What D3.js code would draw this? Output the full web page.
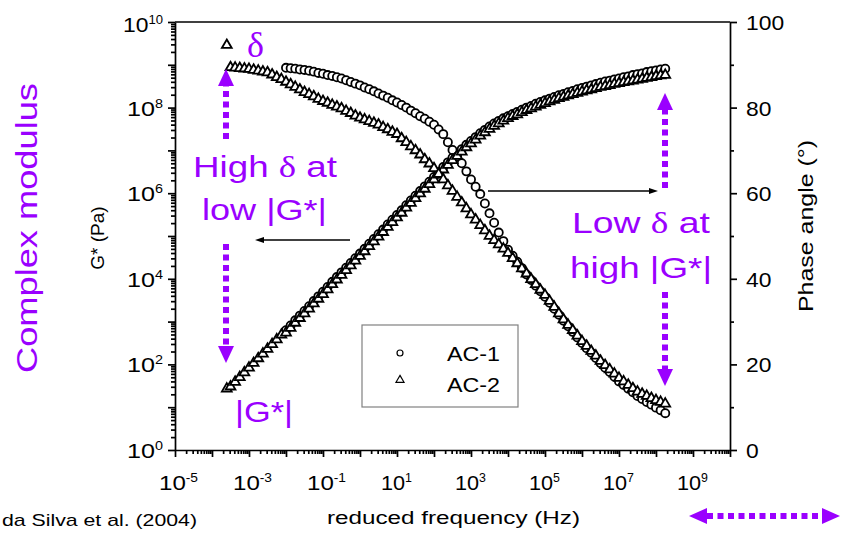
<!DOCTYPE html>
<html>
<head>
<meta charset="utf-8">
<script src="https://cdn.jsdelivr.net/npm/d3@7"></script>
<style>
  body { margin: 0; background: #fff; }
  svg { display: block; font-family: "Liberation Sans", Arial, sans-serif; }
</style>
</head>
<body>
<svg id="chart" width="861" height="533"></svg>
<script>
// log10 of reduced frequency (Hz), |G*| as log10(Pa), phase angle in degrees
const ac1LogFreq = [-2,-1.875,-1.75,-1.625,-1.5,-1.375,-1.25,-1.125,-1,-0.875,-0.75,-0.625,-0.5,-0.375,-0.25,-0.125,
  0,0.125,0.25,0.375,0.5,0.625,0.75,0.875,1,1.125,1.25,1.375,1.5,1.625,1.75,1.875,2,2.125,2.25,2.375,2.5,2.625,2.75,2.875,
  3,3.125,3.25,3.375,3.5,3.625,3.75,3.875,4,4.125,4.25,4.375,4.5,4.625,4.75,4.875,5,5.125,5.25,5.375,5.5,5.625,5.75,5.875,
  6,6.125,6.25,6.375,6.5,6.625,6.75,6.875,7,7.125,7.25,7.375,7.5,7.625,7.75,7.875,8,8.125,8.25];
const ac1LogG = [2.80,2.91,3.03,3.14,3.25,3.36,3.48,3.59,3.70,3.81,3.93,4.04,4.15,4.26,4.37,4.48,
  4.59,4.70,4.82,4.93,5.04,5.15,5.27,5.38,5.49,5.60,5.72,5.83,5.94,6.05,6.16,6.27,6.38,6.49,6.61,6.72,6.83,6.93,7.03,7.13,
  7.22,7.31,7.40,7.48,7.56,7.63,7.69,7.75,7.80,7.85,7.90,7.95,8.00,8.04,8.09,8.13,8.17,8.21,8.25,8.29,8.32,8.36,8.39,8.43,
  8.46,8.49,8.52,8.55,8.58,8.61,8.63,8.66,8.68,8.71,8.73,8.76,8.78,8.80,8.83,8.85,8.87,8.89,8.91];
const ac1Phase = [89.3,89.2,89.1,88.9,88.8,88.6,88.4,88.1,87.9,87.6,87.4,87.1,86.8,86.4,86.0,85.6,
  85.2,84.7,84.3,83.8,83.3,82.8,82.3,81.7,81.2,80.6,80.0,79.3,78.7,78.0,77.4,76.7,76.0,74.9,73.8,71.9,70.1,68.6,67.0,65.1,
  63.2,61.5,59.8,57.6,55.3,53.1,50.8,48.8,46.8,45.4,44.0,42.5,41.0,39.7,38.4,37.1,35.8,34.4,33.0,31.6,30.2,28.9,27.6,26.3,
  25.0,23.8,22.7,21.5,20.3,19.2,18.2,17.1,16.0,15.2,14.3,13.5,12.6,11.9,11.2,10.6,9.9,9.3,8.6];

const ac2LogFreq = [-3.6,-3.5,-3.375,-3.25,-3.125,-3,-2.875,-2.75,-2.625,-2.5,-2.375,-2.25,-2.125,
  -2,-1.875,-1.75,-1.625,-1.5,-1.375,-1.25,-1.125,-1,-0.875,-0.75,-0.625,-0.5,-0.375,-0.25,-0.125,
  0,0.125,0.25,0.375,0.5,0.625,0.75,0.875,1,1.125,1.25,1.375,1.5,1.625,1.75,1.875,2,2.125,2.25,2.375,2.5,2.625,2.75,2.875,
  3,3.125,3.25,3.375,3.5,3.625,3.75,3.875,4,4.125,4.25,4.375,4.5,4.625,4.75,4.875,5,5.125,5.25,5.375,5.5,5.625,5.75,5.875,
  6,6.125,6.25,6.375,6.5,6.625,6.75,6.875,7,7.125,7.25,7.375,7.5,7.625,7.75,7.875,8,8.125,8.25];
const ac2LogG = [1.43,1.48,1.59,1.70,1.81,1.92,2.03,2.14,2.25,2.36,2.47,2.58,2.69,
  2.74,2.85,2.97,3.08,3.19,3.30,3.42,3.53,3.64,3.75,3.87,3.98,4.09,4.20,4.31,4.42,
  4.53,4.64,4.76,4.87,4.98,5.09,5.21,5.32,5.43,5.54,5.66,5.77,5.88,5.99,6.10,6.21,6.32,6.43,6.55,6.66,6.77,6.87,6.97,7.07,
  7.16,7.25,7.34,7.42,7.50,7.57,7.63,7.69,7.75,7.80,7.84,7.89,7.94,7.98,8.02,8.06,8.10,8.14,8.18,8.22,8.25,8.28,8.31,8.34,
  8.37,8.40,8.42,8.45,8.48,8.50,8.52,8.55,8.57,8.59,8.61,8.63,8.65,8.67,8.69,8.71,8.73,8.75,8.76];
const ac2Phase = [94.6,89.4,89.3,89.2,89.1,89.0,88.8,88.6,88.4,88.2,87.7,87.1,86.6,
  86.0,85.4,84.8,84.2,83.6,83.1,82.6,82.0,81.5,81.1,80.6,80.2,79.8,79.2,78.7,78.1,
  77.6,77.2,76.8,76.4,76.0,75.4,74.9,74.3,73.8,72.8,71.9,70.9,70.0,69.0,67.9,66.9,65.8,64.5,63.2,61.8,60.5,59.1,57.8,56.4,
  55.0,53.8,52.5,51.3,50.0,49.0,48.0,47.0,46.0,44.8,43.6,42.4,41.2,39.9,38.7,37.4,36.2,34.8,33.4,31.9,30.5,29.2,28.0,26.7,
  25.4,24.3,23.1,22.0,20.8,19.8,18.8,17.8,16.8,16.0,15.2,14.4,13.6,13.1,12.6,12.1,11.6,11.2,10.8];

const seriesNames = ["AC-1", "AC-2"];
const gLabelExp = [0, 2, 4, 6, 8, 10];
const fLabelExp = [-5, -3, -1, 1, 3, 5, 7, 9];
const phaseTicks = [0, 20, 40, 60, 80, 100];
const phaseMinor = [10, 30, 50, 70, 90];

const purple = "#9a00ff";
const plot = { left: 175, right: 730, top: 22, bottom: 450 };

const svg = d3.select("#chart");

const x = d3.scaleLog().domain([1e-5, 1e10]).range([plot.left, plot.right]);
const yG = d3.scaleLog().domain([1, 1e10]).range([plot.bottom, plot.top]);
const yP = d3.scaleLinear().domain([0, 100]).range([plot.bottom, plot.top]);

const decades = (a, b) => d3.range(a, b + 1).map(e => Math.pow(10, e));
const minors = (a, b) => d3.range(a, b).flatMap(e => d3.range(2, 10).map(m => m * Math.pow(10, e)));

function styleAxis(g) {
    g.selectAll("path, line").attr("stroke", "#000").attr("stroke-width", 1.7);
    g.selectAll("text").remove();
}

// left axis (G*)
svg.append("g").attr("transform", `translate(${plot.left},0)`)
    .call(d3.axisLeft(yG).tickValues(decades(0, 10)).tickSize(7).tickSizeOuter(0).tickFormat(""))
    .call(styleAxis);
svg.append("g").attr("transform", `translate(${plot.left},0)`)
    .call(d3.axisLeft(yG).tickValues(minors(0, 10)).tickSize(4).tickSizeOuter(0).tickFormat(""))
    .call(styleAxis).select(".domain").remove();

// bottom axis (frequency)
svg.append("g").attr("transform", `translate(0,${plot.bottom})`)
    .call(d3.axisBottom(x).tickValues(decades(-5, 10)).tickSize(7).tickSizeOuter(0).tickFormat(""))
    .call(styleAxis);
svg.append("g").attr("transform", `translate(0,${plot.bottom})`)
    .call(d3.axisBottom(x).tickValues(minors(-5, 10)).tickSize(4).tickSizeOuter(0).tickFormat(""))
    .call(styleAxis).select(".domain").remove();

// right axis (phase)
svg.append("g").attr("transform", `translate(${plot.right},0)`)
    .call(d3.axisRight(yP).tickValues(phaseTicks).tickSize(7).tickSizeOuter(0).tickFormat(""))
    .call(styleAxis);
svg.append("g").attr("transform", `translate(${plot.right},0)`)
    .call(d3.axisRight(yP).tickValues(phaseMinor).tickSize(4).tickSizeOuter(0).tickFormat(""))
    .call(styleAxis).select(".domain").remove();

// top frame line
svg.append("line")
    .attr("x1", plot.left).attr("x2", plot.right)
    .attr("y1", plot.top).attr("y2", plot.top)
    .attr("stroke", "#000").attr("stroke-width", 1.7);

// power-of-ten tick labels
function powLabel(px, py, exp, anchor, len) {
    const t = svg.append("text")
        .attr("x", px).attr("y", py)
        .attr("text-anchor", anchor)
        .attr("font-size", 21)
        .attr("textLength", len).attr("lengthAdjust", "spacingAndGlyphs");
    t.append("tspan").text("10");
    t.append("tspan").attr("dy", -8).attr("font-size", 12).text(exp);
}

gLabelExp.forEach(e => {
    const py = yG(Math.pow(10, e));
    powLabel(163, e === 10 ? py + 10 : py + 8, e, "end", e === 10 ? 40 : 36);
});
fLabelExp.forEach(e => {
    const px = x(Math.pow(10, e));
    powLabel(px - 16, 490, e, "start", e < 0 ? 39 : 31);
});
phaseTicks.forEach(v => {
    svg.append("text")
        .attr("x", 746).attr("y", yP(v) + 8)
        .attr("font-size", 21)
        .attr("textLength", String(v).length * 12.7).attr("lengthAdjust", "spacingAndGlyphs")
        .text(v);
});

// axis titles
svg.append("text")
    .attr("x", 327).attr("y", 524)
    .attr("font-size", 18)
    .attr("textLength", 253).attr("lengthAdjust", "spacingAndGlyphs")
    .text("reduced frequency (Hz)");

svg.append("text")
    .attr("transform", "translate(104,238) rotate(-90)")
    .attr("text-anchor", "middle")
    .attr("font-size", 19)
    .text("G* (Pa)");

svg.append("text")
    .attr("transform", "translate(813,226) rotate(-90)")
    .attr("text-anchor", "middle")
    .attr("font-size", 21)
    .attr("textLength", 172).attr("lengthAdjust", "spacingAndGlyphs")
    .text("Phase angle (°)");

svg.append("text")
    .attr("transform", "translate(37,228) rotate(-90)")
    .attr("text-anchor", "middle")
    .attr("font-size", 30)
    .attr("fill", purple)
    .attr("textLength", 290).attr("lengthAdjust", "spacingAndGlyphs")
    .text("Complex modulus");

svg.append("text")
    .attr("x", 2).attr("y", 526)
    .attr("font-size", 17)
    .attr("textLength", 195).attr("lengthAdjust", "spacingAndGlyphs")
    .text("da Silva et al. (2004)");

// data series
const series = [
    { name: seriesNames[0], freq: ac1LogFreq, g: ac1LogG, phase: ac1Phase, shape: d3.symbolCircle, size: 52 },
    { name: seriesNames[1], freq: ac2LogFreq, g: ac2LogG, phase: ac2Phase, shape: d3.symbolTriangle, size: 42 }
];

const marks = svg.append("g");
series.forEach(s => {
    const pts = s.freq.map((f, i) => ({ f: Math.pow(10, f), g: Math.pow(10, s.g[i]), p: s.phase[i] }));
    const sym = d3.symbol().type(s.shape).size(s.size);
    marks.selectAll(null).data(pts).enter().append("path")
        .attr("d", sym)
        .attr("transform", d => `translate(${x(d.f)},${yG(d.g)})`)
        .attr("fill", "#fff").attr("stroke", "#000").attr("stroke-width", 1.8);
    marks.selectAll(null).data(pts).enter().append("path")
        .attr("d", sym)
        .attr("transform", d => `translate(${x(d.f)},${yP(d.p)})`)
        .attr("fill", "#fff").attr("stroke", "#000").attr("stroke-width", 1.8);
});

// legend
const legend = svg.append("g");
legend.append("rect")
    .attr("x", 362).attr("y", 325).attr("width", 156).attr("height", 82)
    .attr("fill", "#fff").attr("stroke", "#808080").attr("stroke-width", 1.2);
series.forEach((s, i) => {
    const ly = 353 + i * 27;
    legend.append("path")
        .attr("d", d3.symbol().type(s.shape).size(28))
        .attr("transform", `translate(400,${ly})`)
        .attr("fill", "#fff").attr("stroke", "#000").attr("stroke-width", 1.2);
    legend.append("text")
        .attr("x", 447).attr("y", ly + 8 + i * 4)
        .attr("font-size", 20)
        .attr("textLength", 53).attr("lengthAdjust", "spacingAndGlyphs")
        .text(s.name);
});

// black pointer arrows
function blackArrow(x1, x2, yy) {
    const dir = Math.sign(x2 - x1);
    svg.append("line").attr("x1", x1).attr("x2", x2 - dir * 7).attr("y1", yy).attr("y2", yy)
        .attr("stroke", "#000").attr("stroke-width", 1.3);
    svg.append("path")
        .attr("d", `M${x2},${yy}L${x2 - dir * 9},${yy - 3}L${x2 - dir * 9},${yy + 3}Z`)
        .attr("fill", "#000");
}
blackArrow(350, 255, 240);
blackArrow(488, 658, 191);

// purple dotted arrows
function dottedV(xx, yStart, yTip) {
    const dir = Math.sign(yTip - yStart);
    const base = yTip - dir * 17;
    svg.append("line").attr("x1", xx).attr("x2", xx).attr("y1", yStart).attr("y2", base)
        .attr("stroke", purple).attr("stroke-width", 6).attr("stroke-dasharray", "6 4.5");
    svg.append("path")
        .attr("d", `M${xx},${yTip}L${xx - 8},${base}L${xx + 8},${base}Z`)
        .attr("fill", purple);
}
dottedV(226, 139, 69);
dottedV(226, 244, 363);
dottedV(665, 188, 93);
dottedV(665, 292, 386);

// bottom-right double-headed dotted arrow
svg.append("line").attr("x1", 707).attr("x2", 822).attr("y1", 516).attr("y2", 516)
    .attr("stroke", purple).attr("stroke-width", 6).attr("stroke-dasharray", "6 4.5");
svg.append("path").attr("d", "M689,516L707,508L707,524Z").attr("fill", purple);
svg.append("path").attr("d", "M840,516L822,508L822,524Z").attr("fill", purple);

// purple annotations
function note(px, py, parts, len) {
    const t = svg.append("text")
        .attr("x", px).attr("y", py)
        .attr("font-size", 30).attr("fill", purple)
        .attr("textLength", len).attr("lengthAdjust", "spacingAndGlyphs");
    parts.forEach(p => {
        const ts = t.append("tspan").text(p.t);
        if (p.serif) ts.attr("font-family", "'Liberation Serif', 'Times New Roman', serif");
    });
}
note(193, 177, [{ t: "High " }, { t: "δ", serif: true }, { t: " at" }], 144);
note(202, 220, [{ t: "low |G*|" }], 125);
note(235, 422, [{ t: "|G*|" }], 58);
note(572, 233, [{ t: "Low " }, { t: "δ", serif: true }, { t: " at" }], 138);
note(570, 278, [{ t: "high |G*|" }], 142);

svg.append("text")
    .attr("x", 247).attr("y", 57)
    .attr("font-size", 36).attr("fill", purple)
    .attr("font-family", "'Liberation Serif', 'Times New Roman', serif")
    .text("δ");
</script>
</body>
</html>
